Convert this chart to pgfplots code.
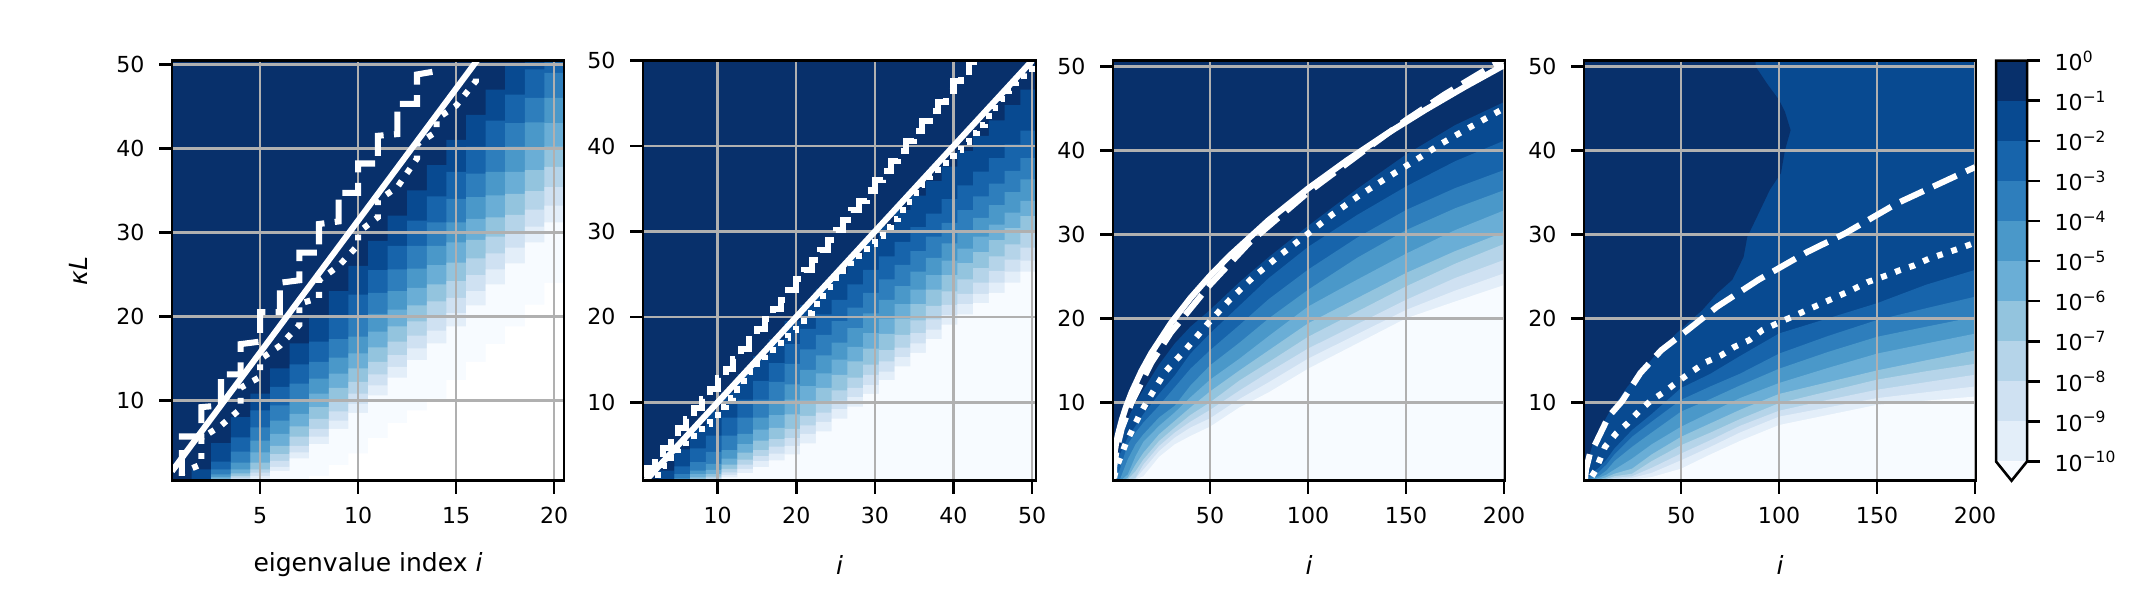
\documentclass[border=0pt]{standalone}
\usepackage{pgfplots}
\usepackage{pgfplotstable}
\usepackage{fontspec}
\setmainfont{DejaVu Sans}
\pgfplotsset{compat=1.18}

\definecolor{f0}{HTML}{08306B}
\definecolor{f1}{HTML}{084A91}
\definecolor{f2}{HTML}{1764AB}
\definecolor{f3}{HTML}{2E7EBC}
\definecolor{f4}{HTML}{4A98C9}
\definecolor{f5}{HTML}{6AAED6}
\definecolor{f6}{HTML}{93C4DE}
\definecolor{f7}{HTML}{B5D4E9}
\definecolor{f8}{HTML}{CFE1F2}
\definecolor{f9}{HTML}{E3EEF9}
\definecolor{f10}{HTML}{F7FBFF}
\definecolor{f11}{HTML}{FFFFFF}
\definecolor{gridc}{HTML}{B0B0B0}

% kappa L at which each contour level is crossed, column by column
\pgfplotstableread{
x b1 b2 b3 b4 b5 b6 b7 b8 b9 b10 b11
0.5 0 0 0 0 0 0 0 0 0 0 0
1.5 1.8 .4 .4 .4 .3 .3 .2 .2 .2 .1 0
2.5 4.9 2.7 1.8 1.2 .9 .7 .6 .5 .4 .3 0
3.5 8 5.6 3.9 2.6 1.8 1.3 1 .8 .6 .5 0
4.5 10.8 8.8 6.8 5.2 3.8 2.6 1.8 1.4 1 .7 0
5.5 13.8 11.6 9.4 7.6 6 4.6 3.6 2.8 2.1 1.6 0
6.5 16.8 14.3 12 10 8.4 6.9 5.7 4.6 3.8 3.1 0
7.5 19.8 17 14.6 12.6 10.8 9.2 7.8 6.6 5.7 4.8 1
8.5 23 19.8 17.3 15.1 13.2 11.5 10 8.7 7.6 6.6 2.3
9.5 26 22.6 20 17.6 15.6 13.8 12.2 10.8 9.6 8.5 3.7
10.5 29 25.5 22.8 20.3 18.2 16.3 14.6 13.1 11.8 10.6 5.5
11.5 32 28.4 25.6 23 20.8 18.8 17 15.4 14 12.7 7.3
12.5 35 31.4 28.4 25.7 23.4 21.3 19.4 17.7 16.2 14.8 8.8
13.5 38 34.3 31.2 28.4 26.1 23.8 21.8 20 18.3 16.8 10.2
14.5 41 37.2 34 31.2 28.8 26.4 24.2 22.2 20.4 18.8 12.4
15.5 44 40.2 37 34.2 31.6 29.1 26.9 24.9 23 21.3 14.6
16.5 47 43.3 40 37.2 34.4 31.8 29.5 27.5 25.6 23.8 16.7
17.5 50 46.4 43 40.2 37.2 34.6 32.1 30.1 28.2 26.3 18.8
18.5 53 49.4 46 43.1 40.1 37.4 34.9 32.7 30.7 28.8 21.4
19.5 56 52.5 49 46 43 40.2 37.8 35.4 33.2 31.2 24
20.5 56 52.5 49 46 43 40.2 37.8 35.4 33.2 31.2 24
}\pa

\pgfplotstableread{
x b1 b2 b3 b4 b5 b6 b7 b8 b9 b10
0.5 .5 .4 .3 .3 .2 .2 .2 .1 .1 .1
2.5 2 .9 .7 .6 .5 .4 .3 .3 .2 .2
4.5 4.5 2.5 1.6 1.1 .9 .7 .6 .5 .4 .3
6.5 7 4.6 3 2 1.6 1.2 1 .8 .7 .5
8.5 9 6.1 4.2 2.8 2.1 1.6 1.3 1.1 .9 .7
10.5 11.2 8.2 6.1 4.4 3.4 2.7 2.2 1.8 1.5 1.2
12.5 13.3 10.3 8.2 6.3 5.1 4.1 3.3 2.7 2.2 1.7
14.5 15.4 12.5 10.3 8.2 6.8 5.5 4.4 3.7 3.1 2.4
16.5 17.4 14.6 12.4 10.2 8.5 7 5.7 4.8 4 3.2
18.5 19.5 16.8 14.5 12.1 10.3 8.6 6.9 5.8 4.9 3.9
20.5 21.4 18.6 16.2 13.8 11.9 10.2 8.4 7.3 6.3 5.2
22.5 23.3 20.3 17.9 15.5 13.4 11.7 9.9 8.8 7.7 6.6
24.5 25.1 22 19.5 17 15 13.2 11.4 10.2 9.2 8.1
26.5 27 23.8 21.1 18.7 16.5 14.8 12.9 11.7 10.6 9.5
28.5 28.9 25.5 22.8 20.4 18.1 16.3 14.4 13.2 12 11
30.5 30.7 27.1 24.4 22 19.8 18 16.1 14.8 13.6 12.6
32.5 32.5 28.8 26.1 23.6 21.5 19.8 17.9 16.4 15.3 14.2
34.5 34.2 30.5 27.7 25.3 23.2 21.5 19.6 18.1 16.9 15.8
36.5 35.9 32.1 29.4 26.9 24.9 23.2 21.3 19.7 18.5 17.4
38.5 37.6 33.8 31 28.6 26.6 24.9 23 21.4 20.2 19.1
40.5 39.4 35.4 32.5 30.1 28 26.3 24.4 22.7 21.5 20.3
42.5 41.2 37 34.1 31.6 29.4 27.6 25.7 24 22.7 21.6
44.5 43 38.6 35.6 33.1 30.8 29 27.1 25.4 24 22.8
46.5 44.8 40.2 37.1 34.6 32.2 30.4 28.5 26.7 25.3 24
48.5 46.6 41.8 38.6 36.1 33.6 31.8 29.8 28.1 26.6 25.3
50.5 46.6 41.8 38.6 36.1 33.6 31.8 29.8 28.1 26.6 25.3
}\pb

\pgfplotstableread{
x b1 b2 b3 b4 b5 b6 b7 b8 b9 b10
0.5 1.5 .6 .4 .3 .2 .2 .2 .1 .1 .1
4 4.6 3.8 2 .8 .6 .5 .4 .3 .3 .2
8 8 5.8 5 3.2 1.4 1 .8 .7 .6 .5
12 10 7.2 6.4 5 3.6 2.6 1.8 1 .9 .8
16 11.5 8.6 7.6 6.2 5.3 4 3.2 2.6 2 1.2
24 14.5 11 9.6 8.2 7.2 6.2 5.4 4.8 4.2 3.5
32 17 13.2 11.8 9.6 8.8 7.8 7 6.4 5.8 5
40 19 15.8 14 12 10.6 9.4 8.5 7.7 7 6
50 21 18.2 16.2 14.4 12.7 11.3 10 9.1 8.1 7.1
65 24.3 21.5 19.2 17.1 15.2 13.8 12.6 11.4 10.4 9.4
80 27.3 24.8 22.3 20 17.9 16.2 14.8 13.6 12.4 11.2
100 31 28.5 25.8 23.4 21.4 19.4 17.8 16.4 15.2 14
125 35.4 32.3 29.6 27.2 24.6 22.4 20.8 19.3 18.1 17
150 39.5 35.7 32.9 30.5 27.7 25.4 23.8 22.2 21 20
175 43 38.7 35.5 33.1 30.5 28 26.5 24.8 23.3 22
200.5 45.8 41.2 37.7 35.3 32.9 30.3 28.9 27 25.4 24
}\pc

\pgfplotstableread{
x b2 b3 b4 b5 b6 b7 b8 b9 b10
0.5 .7 .6 .5 .4 .3 .3 .2 .2 .1
4 1.5 1.2 .9 .7 .5 .4 .3 .3 .2
8 2.2 1.7 1.2 1 .8 .6 .5 .4 .3
12 3.2 2.6 1.9 1.4 1.1 .9 .7 .6 .5
16 4.5 3.8 3 2 1.5 1.2 1 .8 .6
25 6.7 5.9 4.7 3.3 2.1 1.5 1.2 1 .8
35 8.6 7.7 6.4 5 3.8 3 2.2 1.6 1.1
50 11.7 10.3 8.9 7.1 5.9 4.9 3.9 3.1 2.1
65 13.4 11.9 10.4 8.8 7.5 6.4 5.5 4.7 3.8
80 15.5 13.4 12 10.5 9.1 8 7.2 6.4 5.4
100 18.2 15.8 14 12.3 11 9.9 9 8.3 7.3
125 20 17.9 16 14.1 12.4 11.3 10.3 9.4 8.5
150 21.8 19.8 17.8 15.8 13.8 12.7 11.5 10.5 9.7
175 24 21.2 19 17 15 13.7 12.4 11.2 10.2
200.5 25.8 22.6 20.2 18.2 16.2 14.6 13.3 11.9 10.7
}\pd

\pgfplotsset{
  hm/.style={
    scale only axis, height=100.8pt, axis on top,
    axis line style={line width=.62pt},
    tick style={black, line width=.62pt},
    major tick length=3.1pt, tick align=outside,
    xtick pos=lower, ytick pos=left,
    ytick={10,20,30,40,50},
    /pgf/number format/assume math mode=true,
    tick label style={font=\fontsize{5.3}{6.3}\selectfont},
    xticklabel style={yshift=.2pt},
    label style={font=\fontsize{6}{7}\selectfont},
    x label style={at={(axis description cs:0.5,-0.2)},anchor=center},
    clip=true,
  },
  lev/.style={draw=none, no marks},
  gl/.style={gridc, line width=.58pt, no marks},
  wsolid/.style={white, line width=1.45pt, no marks},
  wdash/.style={white, line width=1.45pt, no marks, dash pattern=on 6.2pt off 2.5pt},
  wdot/.style={white, line width=1.45pt, no marks, dash pattern=on 1.4pt off 2.2pt},
}

\begin{document}
\begin{tikzpicture}
\path[use as bounding box] (0,0) rectangle (515.52pt,144pt);

% panel 1
\begin{axis}[hm, at={(41.28pt,28.63pt)}, anchor=south west, width=94.08pt,
  xmin=0.5, xmax=20.5, ymin=0.44, ymax=50.44, xtick={5,10,15,20},
  xlabel={eigenvalue index \textit{i}}, ylabel={\textit{κL}},
  y label style={at={(axis description cs:-0.24,0.5)},anchor=center}]
\addplot[lev, fill=f0] coordinates {(0.5,0)(20.5,0)(20.5,60)(0.5,60)} -- cycle;
\pgfplotsinvokeforeach{1,2,3,4,5,6,7,8,9,10,11}{
  \addplot[lev, const plot, fill=f#1] table[x=x, y=b#1] {\pa} \closedcycle;
}
\pgfplotsinvokeforeach{5,10,15,20}{\addplot[gl] coordinates {(#1,0)(#1,60)};}
\pgfplotsinvokeforeach{10,20,30,40,50}{\addplot[gl] coordinates {(0,#1)(30,#1)};}
\addplot[wdot] coordinates {(1,1)(1,1.4)(2,2.4)(2,5.5)(3,7)(4,9)(4,11.5)(5,12.8)(5,14.9)(6,16.5)(7,19)(7,21.5)(8,22.2)(8,24.3)(9,26)(10,28.5)(10,30)(11,31.8)(11,33.8)(12,35.4)(13,38.8)(13,40.5)(14,42)(14,43.5)(15,45.1)(16,48)(16,49)};
\addplot[wdash] coordinates {(1,1)(1,5.7)(2,5.7)(2,9.2)(3,9.4)(3,13.1)(4,13.1)(4,16.7)(5,17)(5,20.5)(6,20.5)(6,24)(7,24.3)(7,27.6)(8,27.6)(8,31)(9,31.3)(9,34.7)(10,34.7)(10,38.2)(11,38.2)(11,41.5)(12,41.7)(12,45.3)(13,45.3)(13,48.8)(14,49.2)};
\addplot[wsolid] coordinates {(0.5,1.57)(16.2,50.9)};
\end{axis}

% panel 2
\begin{axis}[hm, at={(154.32pt,28.63pt)}, anchor=south west, width=94.32pt,
  xmin=0.5, xmax=50.5, ymin=0.82, ymax=50, xtick={10,20,30,40,50},
  xlabel={\textit{i}}]
\addplot[lev, fill=f0] coordinates {(0.5,0)(50.5,0)(50.5,60)(0.5,60)} -- cycle;
\pgfplotsinvokeforeach{1,2,3,4,5,6,7,8,9,10}{
  \addplot[lev, const plot, fill=f#1] table[x=x, y=b#1] {\pb} \closedcycle;
}
\pgfplotsinvokeforeach{10,20,30,40,50}{\addplot[gl] coordinates {(#1,0)(#1,60)};}
\pgfplotsinvokeforeach{10,20,30,40,50}{\addplot[gl] coordinates {(0,#1)(60,#1)};}
\addplot[wdot] coordinates {(2,1.5)(3,1.5)(3,2.5)(4,2.5)(4,3.5)(5,3.5)(5,4.5)(6,4.5)(6,5.5)(7,5.5)(7,6.5)(8,6.5)(8,7.5)(9,7.5)(9,8.5)(10,8.5)(10,9.5)(11,9.5)(11,10.5)(12,10.5)(12,11.5)(13,11.5)(13,12.5)(14,12.5)(14,13.5)(15,13.5)(15,14.5)(16,14.5)(16,15.5)(17,15.5)(17,16.5)(18,16.5)(18,17.5)(19,17.5)(19,18.5)(20,18.5)(20,19.5)(21,19.5)(21,20.5)(22,20.5)(22,21.5)(23,21.5)(23,22.5)(24,22.5)(24,23.5)(25,23.5)(25,24.5)(26,24.5)(26,25.5)(27,25.5)(27,26.5)(28,26.5)(28,27.5)(29,27.5)(29,28.5)(30,28.5)(30,29.5)(31,29.5)(31,30.5)(32,30.5)(32,31.5)(33,31.5)(33,32.5)(34,32.5)(34,33.5)(35,33.5)(35,34.5)(36,34.5)(36,35.5)(37,35.5)(37,36.5)(38,36.5)(38,37.5)(39,37.5)(39,38.5)(40,38.5)(40,39.5)(41,39.5)(41,40.5)(42,40.5)(42,41.5)(43,41.5)(43,42.5)(44,42.5)(44,43.5)(45,43.5)(45,44.5)(46,44.5)(46,45.5)(47,45.5)(47,46.5)(48,46.5)(48,47.5)(49,47.5)(49,48.5)(50,48.5)(50,49.5)};
\addplot[wdash] coordinates {(1,1.2)(1,2.3)(2,2.3)(2,3.5)(3,3.5)(3,4.6)(4,4.6)(4,5.8)(5,5.8)(5,7)(6,7)(6,8.1)(7,8.1)(7,9.3)(8,9.3)(8,10.4)(9,10.4)(9,11.6)(10,11.6)(10,12.8)(11,12.8)(11,13.9)(12,13.9)(12,15.1)(13,15.1)(13,16.2)(14,16.2)(14,17.4)(15,17.4)(15,18.6)(16,18.6)(16,19.7)(17,19.7)(17,20.9)(18,20.9)(18,22)(19,22)(19,23.2)(20,23.2)(20,24.4)(21,24.4)(21,25.5)(22,25.5)(22,26.7)(23,26.7)(23,27.8)(24,27.8)(24,29)(25,29)(25,30.2)(26,30.2)(26,31.3)(27,31.3)(27,32.5)(28,32.5)(28,33.6)(29,33.6)(29,34.8)(30,34.8)(30,36)(31,36)(31,37.1)(32,37.1)(32,38.3)(33,38.3)(33,39.4)(34,39.4)(34,40.6)(35,40.6)(35,41.8)(36,41.8)(36,42.9)(37,42.9)(37,44.1)(38,44.1)(38,45.2)(39,45.2)(39,46.4)(40,46.4)(40,47.6)(41,47.6)(41,48.7)(42,48.7)(42,49.9)(43,49.9)};
\addplot[wsolid] coordinates {(0.82,0.82)(50,50)};
\end{axis}

% panel 3
\begin{axis}[hm, at={(267.12pt,28.63pt)}, anchor=south west, width=94.08pt,
  xmin=0.5, xmax=200.5, ymin=0.67, ymax=50.67, xtick={50,100,150,200},
  xlabel={\textit{i}}]
\addplot[lev, fill=f0] coordinates {(0.5,0)(200.5,0)(200.5,60)(0.5,60)} -- cycle;
\pgfplotsinvokeforeach{1,2,3,4,5,6,7,8,9,10}{
  \addplot[lev, fill=f#1] table[x=x, y=b#1] {\pc} \closedcycle;
}
\pgfplotsinvokeforeach{50,100,150,200}{\addplot[gl] coordinates {(#1,0)(#1,60)};}
\pgfplotsinvokeforeach{10,20,30,40,50}{\addplot[gl] coordinates {(0,#1)(210,#1)};}
\addplot[wdot] coordinates {(1,1)(2,2)(4,3.3)(7,5.1)(14,8.5)(18.4,10.3)(27,13.6)(38,16.4)(49,19.4)(60,22.2)(72,24.9)(85,27.4)(99,29.9)(112,32.3)(126,34.6)(140,36.7)(154,38.7)(168,40.8)(183,42.8)(200,45)};
\addplot[wdash] coordinates {(1,1)(1,2.2)(2,3.8)(3,5)(5,6.9)(10,10)(20,14.7)(30,18.3)(50,24)(70,29)(100,35)(130,40.2)(150,43.6)(170,46.7)(200,50.9)};
\addplot[wsolid] coordinates {(0.5,0.7)(0.7,2.97)(1,3.54)(2,5.01)(3,6.14)(5,7.93)(7,9.38)(10,11.21)(15,13.73)(20,15.85)(30,19.42)(40,22.42)(50,25.07)(60,27.46)(80,31.71)(100,35.45)(120,38.83)(140,41.94)(160,44.84)(180,47.56)(200,50.13)};
\end{axis}

% panel 4
\begin{axis}[hm, at={(380.16pt,28.63pt)}, anchor=south west, width=94.08pt,
  xmin=0.5, xmax=200.5, ymin=0.67, ymax=50.67, xtick={50,100,150,200},
  xlabel={\textit{i}}]
\addplot[lev, fill=f1] coordinates {(0.5,0)(200.5,0)(200.5,60)(0.5,60)} -- cycle;
\addplot[lev, fill=f0] coordinates {(0.5,52)(88,52)(88,50)(94,47.9)(100,46)(103,44.6)(105.9,42.4)(103,40)(101,37.3)(95.3,35.3)(89.6,32.5)(83.8,29.7)(81.9,27.3)(76.2,24.6)(68.5,23)(60.9,21)(51.3,19)(47.5,18.2)(36,15.4)(22.7,11.9)(13,8.7)(5.4,5.5)(2.6,3.1)(1.5,1)(0.5,0.6)} -- cycle;
\pgfplotsinvokeforeach{2,3,4,5,6,7,8,9,10}{
  \addplot[lev, fill=f#1] table[x=x, y=b#1] {\pd} \closedcycle;
}
\pgfplotsinvokeforeach{50,100,150,200}{\addplot[gl] coordinates {(#1,0)(#1,60)};}
\pgfplotsinvokeforeach{10,20,30,40,50}{\addplot[gl] coordinates {(0,#1)(210,#1)};}
\addplot[wdot] coordinates {(4.5,1.2)(6.4,1.9)(11.2,4.7)(16.9,6.3)(22.7,7.5)(28.4,8.9)(34.1,10.1)(41.8,11.3)(48.5,12.5)(55.2,13.6)(62.8,14.8)(70.5,15.6)(77.2,16.6)(84.8,17.4)(91.5,18.6)(100,19.5)(106.8,20.2)(114.4,21)(122.1,21.8)(129.7,22.6)(137.4,23.4)(145,24.3)(153.6,25)(161.3,25.7)(169,26.3)(176.5,27.1)(184.2,27.7)(191.8,28.3)(200,29)};
\addplot[wdash] coordinates {(1,0.8)(1.5,2)(3.5,3.9)(6.4,5.1)(13,8.3)(19.8,10.1)(29.3,13.5)(39.9,16.2)(53.3,18.6)(68.5,21.4)(89.6,24.6)(114.4,27.9)(133.6,30.1)(160.3,33.7)(200,38)};
\end{axis}

% colour bar
\begin{axis}[scale only axis, at={(479.04pt,28.63pt)}, anchor=south west,
  width=7.44pt, height=100.8pt, xmin=0, xmax=1, ymin=-10.48, ymax=0, clip=false,
  axis line style={draw=none}, xtick=\empty, ytick pos=right, tick align=outside,
  tick style={black, line width=.62pt}, major tick length=3.1pt,
  ytick={0,-1,-2,-3,-4,-5,-6,-7,-8,-9,-10},
  yticklabels={10\textsuperscript{0},10\textsuperscript{−1},10\textsuperscript{−2},10\textsuperscript{−3},10\textsuperscript{−4},10\textsuperscript{−5},10\textsuperscript{−6},10\textsuperscript{−7},10\textsuperscript{−8},10\textsuperscript{−9},10\textsuperscript{−10}},
  tick label style={font=\fontsize{5.3}{6.3}\selectfont}]
\addplot[lev, fill=f0] coordinates {(0,0)(1,0)(1,-1)(0,-1)} -- cycle;
\addplot[lev, fill=f1] coordinates {(0,-1)(1,-1)(1,-2)(0,-2)} -- cycle;
\addplot[lev, fill=f2] coordinates {(0,-2)(1,-2)(1,-3)(0,-3)} -- cycle;
\addplot[lev, fill=f3] coordinates {(0,-3)(1,-3)(1,-4)(0,-4)} -- cycle;
\addplot[lev, fill=f4] coordinates {(0,-4)(1,-4)(1,-5)(0,-5)} -- cycle;
\addplot[lev, fill=f5] coordinates {(0,-5)(1,-5)(1,-6)(0,-6)} -- cycle;
\addplot[lev, fill=f6] coordinates {(0,-6)(1,-6)(1,-7)(0,-7)} -- cycle;
\addplot[lev, fill=f7] coordinates {(0,-7)(1,-7)(1,-8)(0,-8)} -- cycle;
\addplot[lev, fill=f8] coordinates {(0,-8)(1,-8)(1,-9)(0,-9)} -- cycle;
\addplot[lev, fill=f9] coordinates {(0,-9)(1,-9)(1,-10)(0,-10)} -- cycle;
\addplot[lev, fill=f10] coordinates {(0,-10)(1,-10)(0.5,-10.48)} -- cycle;
\addplot[black, line width=.62pt, no marks] coordinates {(0,0)(1,0)(1,-10)(0.5,-10.48)(0,-10)} -- cycle;
\end{axis}
\end{tikzpicture}
\end{document}
